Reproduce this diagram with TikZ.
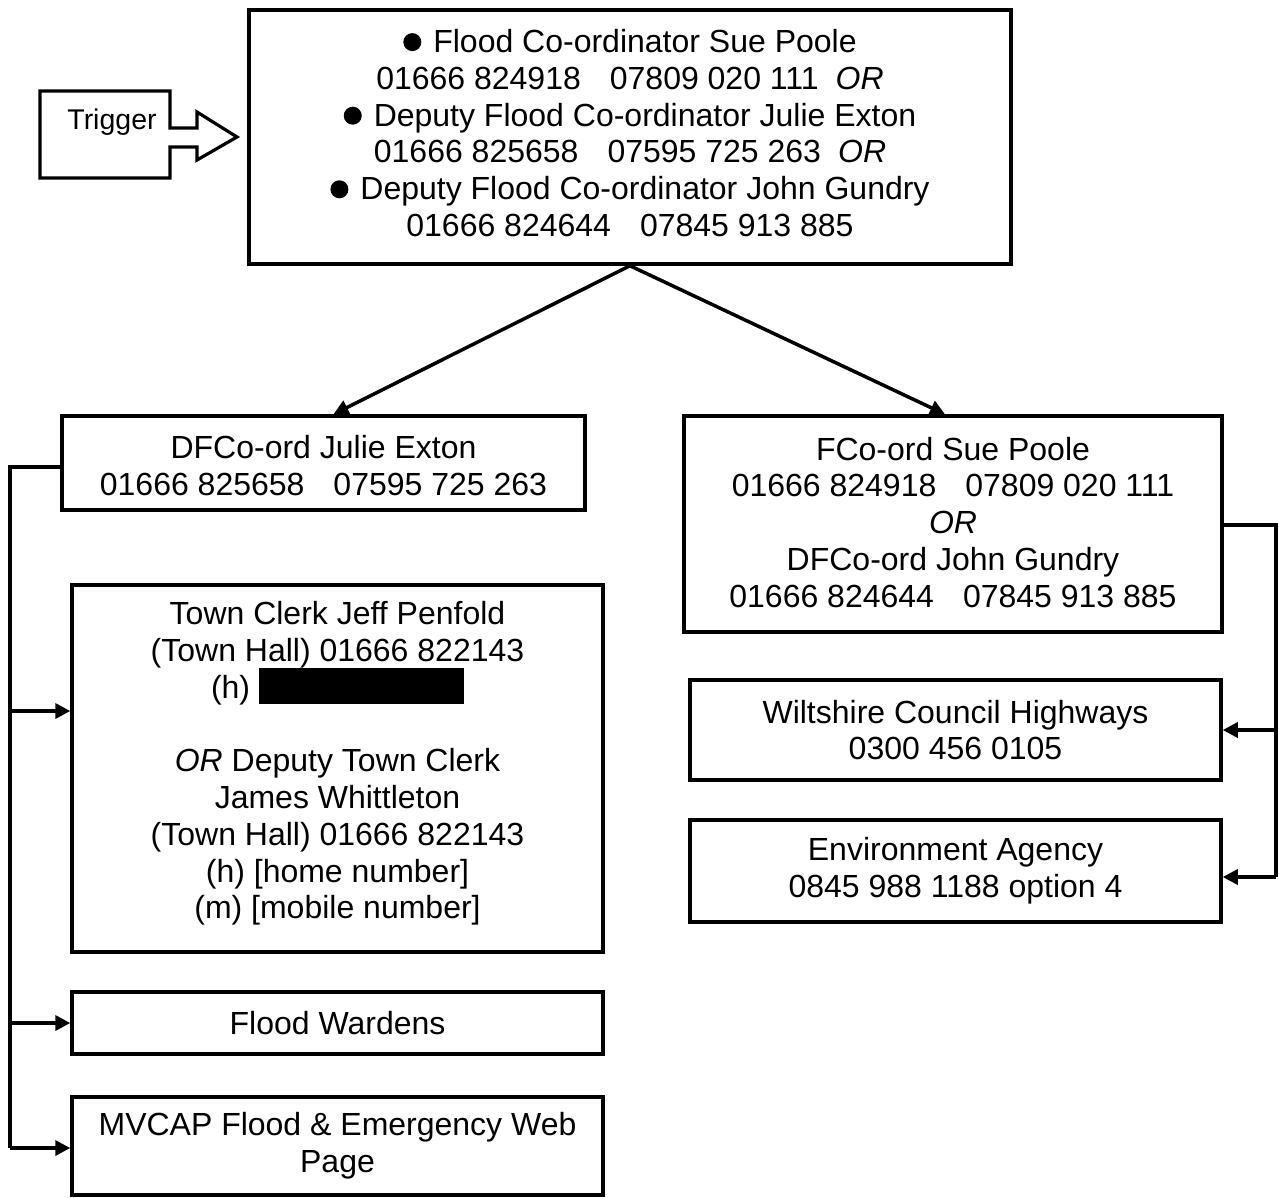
\documentclass[tikz,border=0pt]{standalone}
\usepackage{fontspec}
\setmainfont{Liberation Sans}
\usetikzlibrary{arrows.meta}
\newcommand\numgap{\hspace{29pt}}
\newcommand\orgap{\hspace{17pt}}
\newcommand\bul{\tikz[x=1pt,y=1pt,baseline=0pt]\fill (9,10.5) circle (9);\hspace{12pt}}
\begin{document}
\begin{tikzpicture}[x=1pt,y=-1pt,
  box/.style={draw,line width=3.5pt,inner sep=0pt,align=center,
    font=\fontsize{32}{36.8}\selectfont},
  arr/.style={line width=3.5pt,-{Triangle[length=15pt,width=15pt]}},
  plain/.style={line width=3.5pt}]
\useasboundingbox (0,0) rectangle (1279,1197);
% trigger arrow shape
\draw[line width=3.2pt,line join=miter] (40,91) -- (170,91) -- (170,128) -- (197,128) -- (197,112) -- (237,137) -- (197,160) -- (197,147) -- (170,147) -- (170,178) -- (40,178) -- cycle;
\node[font=\fontsize{28.5}{32}\selectfont] (trig) at (112,122) {Trigger};
% boxes
\node[box,minimum width=762pt,minimum height=254pt] (top) at (630,137) {%
\bul Flood Co-ordinator Sue Poole\\
01666 824918\numgap07809 020 111\orgap\textit{OR}\\
\bul Deputy Flood Co-ordinator Julie Exton\\
01666 825658\numgap07595 725 263\orgap\textit{OR}\\
\bul Deputy Flood Co-ordinator John Gundry\\
01666 824644\numgap07845 913 885\rule[-8pt]{0pt}{8pt}};
\node[box,minimum width=523pt,minimum height=94pt] (df) at (323.5,463) {%
\rule{0pt}{28pt}DFCo-ord Julie Exton\\
01666 825658\numgap07595 725 263};
\node[box,minimum width=538pt,minimum height=216pt] (fco) at (953,524) {%
FCo-ord Sue Poole\\
01666 824918\numgap07809 020 111\\
\textit{OR}\\
DFCo-ord John Gundry\\
01666 824644\numgap07845 913 885\rule[-4pt]{0pt}{4pt}};
\node[box,minimum width=531pt,minimum height=367pt] (tc) at (337.5,768.5) {%
Town Clerk Jeff Penfold\\
(Town Hall) 01666 822143\\
(h) \smash{\rule[-6pt]{205pt}{36pt}}\\
~\\
\textit{OR} Deputy Town Clerk\\
James Whittleton\\
(Town Hall) 01666 822143\\
(h) [home number]\\
(m) [mobile number]\rule[-17pt]{0pt}{17pt}};
\node[box,minimum width=531pt,minimum height=62pt] (fw) at (337.5,1023) {Flood Wardens};
\node[box,minimum width=531pt,minimum height=98pt] (mv) at (337.5,1146) {%
MVCAP Flood \& Emergency Web\\
Page};
\node[box,minimum width=531pt,minimum height=100pt] (wc) at (955.5,730) {%
Wiltshire Council Highways\\
0300 456 0105};
\node[box,minimum width=531pt,minimum height=102pt] (ea) at (955.5,871) {%
Environment Agency\\
0845 988 1188 option 4};
% connectors from top box
\draw[arr] (top.south) -- ([xshift=10pt]df.north);
\draw[arr] (top.south) -- ([xshift=-8pt]fco.north);
% left bus
\coordinate (lt) at (10,467);
\coordinate (lb) at (10,1148);
\coordinate (ltc) at (10,711);
\coordinate (lfw) at (10,1023);
\draw[plain,line join=miter] ([yshift=-4pt]df.west) -- (lt) -- (lb);
\draw[arr] (ltc) -- (tc.west |- ltc);
\draw[arr] (lfw) -- (fw.west |- lfw);
\draw[arr] (lb) -- (mv.west |- lb);
% right bus
\coordinate (rt) at (1276,525);
\coordinate (rb) at (1276,877);
\coordinate (rwc) at (1276,730);
\draw[plain,line join=miter] (fco.east |- rt) -- (rt) -- (rb);
\draw[arr] (rwc) -- (wc.east |- rwc);
\draw[arr] (rb) -- (ea.east |- rb);
\end{tikzpicture}
\end{document}
